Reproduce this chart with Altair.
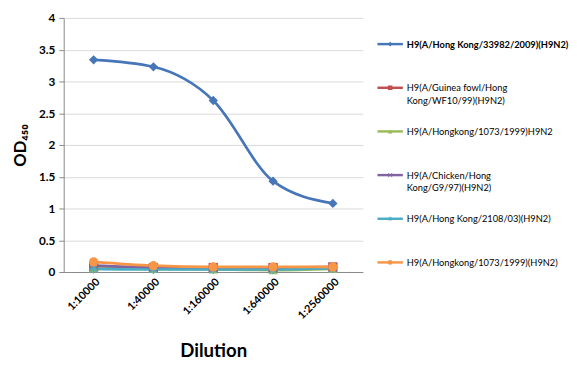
import altair as alt
import pandas as pd

dilutions = ["1:10000", "1:40000", "1:160000", "1:640000", "1:2560000"]
series_names = [
    "H9(A/Hong Kong/33982/2009)(H9N2)",
    "H9(A/Guinea fowl/Hong|Kong/WF10/99)(H9N2)",
    "H9(A/Hongkong/1073/1999)H9N2",
    "H9(A/Chicken/Hong|Kong/G9/97)(H9N2)",
    "H9(A/Hong Kong/2108/03)(H9N2)",
    "H9(A/Hongkong/1073/1999)(H9N2)",
]
s1 = [3.34, 3.23, 2.70, 1.43, 1.08]
s2 = [0.08, 0.07, 0.07, 0.07, 0.08]
s3 = [0.06, 0.05, 0.04, 0.03, 0.05]
s4 = [0.10, 0.07, 0.06, 0.06, 0.07]
s5 = [0.05, 0.04, 0.04, 0.04, 0.06]
s6 = [0.16, 0.10, 0.08, 0.08, 0.08]
colors = ["#4675B8", "#C0504D", "#9BBB59", "#8064A2", "#4BACC6", "#F79646"]
shapes = ["diamond", "square", "triangle-up",
          "M-0.8,-1L0,-0.2L0.8,-1L1,-0.8L0.2,0L1,0.8L0.8,1L0,0.2L-0.8,1L-1,0.8L-0.2,0L-1,-0.8Z",
          "M-0.15,-1H0.15V1H-0.15ZM-1,-0.15H1V0.15H-1ZM-0.8,-0.6L-0.6,-0.8L0.8,0.6L0.6,0.8ZM0.6,-0.8L0.8,-0.6L-0.6,0.8L-0.8,0.6Z",
          "circle"]

rows = []
for i, (name, vals) in enumerate(zip(series_names, [s1, s2, s3, s4, s5, s6])):
    for d, v in zip(dilutions, vals):
        rows.append({"series": name, "idx": i, "dilution": d, "od": v})
df = pd.DataFrame(rows)
leg_df = pd.DataFrame({"series": series_names, "idx": list(range(len(series_names))),
                       "bold": [True] + [False] * 5})

FONT = "Lato"
cscale = alt.Scale(domain=series_names, range=colors)
sscale = alt.Scale(domain=series_names, range=shapes)

x = alt.X("dilution:N", sort=dilutions,
          axis=alt.Axis(title="Dilution", labelAngle=-45, labelFontSize=11, labelFontWeight="bold",
                        labelColor="#000", titleFontSize=19, titleFontWeight="bold", titleColor="#000",
                        domainColor="#888", ticks=False, titlePadding=22, labelPadding=4))
y = alt.Y("od:Q", scale=alt.Scale(domain=[0, 4], nice=False),
          axis=alt.Axis(title="OD₄₅₀", values=[0, 0.5, 1, 1.5, 2, 2.5, 3, 3.5, 4], format="~g",
                        labelFontSize=12, labelFontWeight="bold", labelColor="#000",
                        titleFontSize=17, titleFontWeight="bold", titleColor="#000",
                        domainColor="#888", tickColor="#888", tickSize=5, gridColor="#d9d9d9",
                        grid=True, titlePadding=9, labelPadding=4))

base = alt.Chart(df)
lines = base.mark_line(interpolate="monotone", strokeWidth=2.7).encode(
    x=x, y=y, color=alt.Color("series:N", scale=cscale, legend=None), order=alt.Order("idx:Q"))
points = base.mark_point(filled=True, size=90, opacity=1).encode(
    x=x, y=y,
    color=alt.Color("series:N", scale=cscale, legend=None),
    shape=alt.Shape("series:N", scale=sscale, legend=None))
plot = alt.layer(lines, points).properties(width=306, height=260)

ly = alt.Y("idx:Q", scale=alt.Scale(domain=[5.22, -0.6], nice=False, zero=False), axis=None)
lbase = alt.Chart(leg_df)
lrule = lbase.mark_rule(strokeWidth=2.5).encode(
    x=alt.value(0), x2=alt.value(26), y=ly,
    color=alt.Color("series:N", scale=cscale, legend=None))
lpt = lbase.mark_point(filled=True, size=22, opacity=1).encode(
    x=alt.value(13), y=ly,
    color=alt.Color("series:N", scale=cscale, legend=None),
    shape=alt.Shape("series:N", scale=sscale, legend=None))
ltext_b = lbase.mark_text(align="left", baseline="alphabetic", dy=3.5, fontSize=9.5, lineHeight=13,
                          lineBreak="|", fontWeight="bold", font=FONT, color="#000").encode(
    x=alt.value(30), y=ly, text="series:N").transform_filter("datum.bold")
ltext_n = lbase.mark_text(align="left", baseline="alphabetic", dy=3.5, fontSize=9.5, lineHeight=13,
                          lineBreak="|", font=FONT, color="#000").encode(
    x=alt.value(30), y=ly, text="series:N").transform_filter("!datum.bold")
legend = alt.layer(lrule, lpt, ltext_b, ltext_n).properties(width=180, height=260)

chart = alt.hconcat(plot, legend, spacing=13).properties(
    padding={"left": 4, "top": 0, "right": 0, "bottom": 0}).configure(font=FONT).configure_view(
    stroke=None).configure_axisX(grid=False)

chart.save("out.html", embed_options={"renderer": "svg", "actions": False})
